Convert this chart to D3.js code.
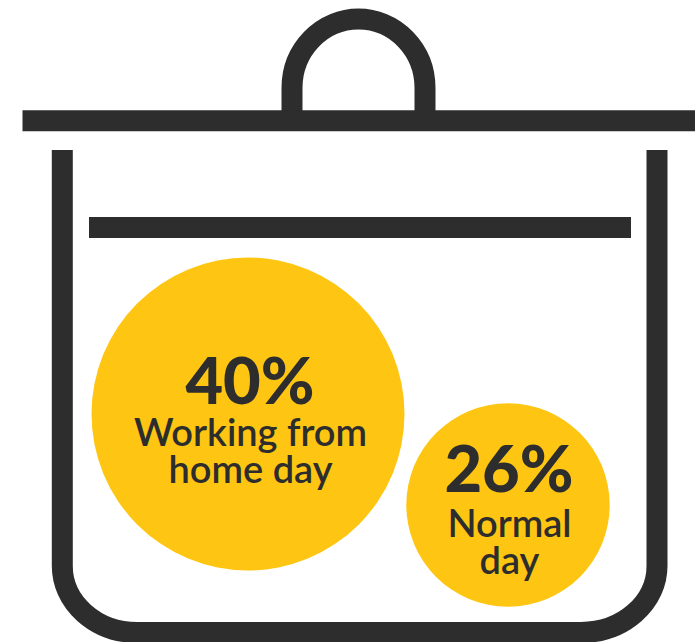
<!DOCTYPE html>
<html>
<head>
<meta charset="utf-8">
<script src="https://cdn.jsdelivr.net/npm/d3@7"></script>
<style>
  html, body { margin: 0; padding: 0; background: #fff; }
  svg { display: block; }
  text { font-family: Lato, sans-serif; fill: #2d2d2d; text-anchor: middle; }
</style>
</head>
<body>
<svg id="chart" width="695" height="642"></svg>
<script>
const shares = [40, 26];
const shareLabels = ["40%", "26%"];
const captions = [["Working from", "home day"], ["Normal", "day"]];

const ink = "#2d2d2d";
const yolk = "#fec612";
const svg = d3.select("#chart");

// Bubble radius grows linearly with the share
const radius = d3.scaleLinear().domain([0, 40]).range([0, 156.500]);
const centres = [[248, 414], [508, 505]];

// Cooking pot outline
const pot = svg.append("g").attr("fill", "none").attr("stroke", ink).attr("stroke-width", 21);
pot.append("path").attr("d", "M292 121 V88 A66.500 69 0 0 1 425 88 V121");
pot.append("path").attr("d", "M22.500 120.700 H695");
pot.append("path").attr("d", "M62.300 150 V566 A75 66.500 0 0 0 137.300 632.500 H581 A76 66.500 0 0 0 657 566 V150");
pot.append("path").attr("d", "M89 227.400 H631");

// Share bubbles
const bubbles = svg.selectAll("g.bubble").data(shares).join("g")
  .attr("class", "bubble")
  .attr("transform", (d, i) => `translate(${centres[i]})`);

bubbles.append("circle").attr("r", d => radius(d)).attr("fill", yolk);

bubbles.append("text")
  .attr("x", (d, i) => i === 0 ? 2 : 1)
  .attr("y", (d, i) => i === 0 ? -10 : -13)
  .attr("font-size", 65)
  .attr("font-weight", 900)
  .text((d, i) => shareLabels[i]);

bubbles.each(function (d, i) {
  d3.select(this).selectAll("text.caption").data(captions[i]).join("text")
    .attr("class", "caption")
    .attr("x", i === 0 ? 2.500 : 1.500)
    .attr("y", (t, j) => 32 + j * 37)
    .attr("font-size", 38)
    .attr("font-weight", 600)
    .text(t => t);
});
</script>
</body>
</html>
